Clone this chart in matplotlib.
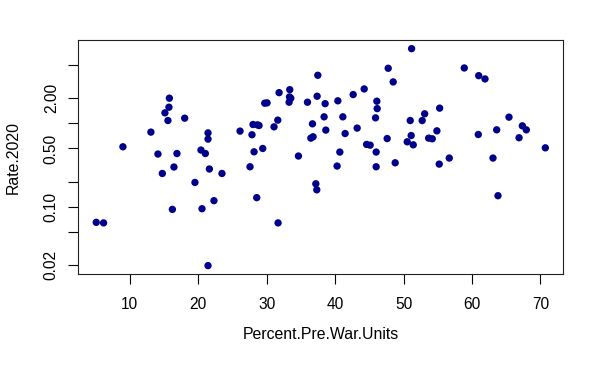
import matplotlib
matplotlib.use("Agg")
import matplotlib.pyplot as plt
import numpy as np

# values
percent_pre_war = [
    5.08, 6.15, 8.98, 13.07, 14.10, 14.74, 15.12, 15.56, 15.71, 15.77,
    16.21, 16.44, 16.88, 18.01, 19.51, 20.39, 20.54, 21.03, 21.42, 21.42,
    21.62, 21.42, 22.29, 23.46, 26.10, 27.56, 27.85, 28.00, 28.15, 28.54,
    28.64, 28.88, 29.42, 29.71, 30.05, 31.07, 31.62, 31.66, 31.81, 33.37,
    33.33, 33.52, 33.27, 34.64, 35.96, 36.69, 36.45, 36.78, 37.18, 37.32,
    37.37, 37.47, 38.54, 38.39, 38.64, 40.40, 41.13, 40.69, 40.29, 41.46,
    42.64, 43.22, 44.25, 44.60, 45.12, 45.91, 46.10, 46.15, 46.00, 46.00,
    47.61, 47.76, 48.49, 48.78, 50.54, 50.98, 51.12, 51.42, 51.18, 52.73,
    53.09, 53.67, 54.20, 54.88, 55.22, 55.28, 56.69, 58.88, 60.99, 61.91,
    60.93, 63.08, 63.62, 63.81, 65.42, 66.89, 67.37, 67.95, 70.73,
]
rate_2020 = [
    0.0653, 0.0643, 0.524, 0.785, 0.429, 0.251, 1.335, 1.08, 1.56, 2.0,
    0.0933, 0.300, 0.435, 1.153, 0.196, 0.479, 0.095, 0.435, 0.769, 0.647,
    0.284, 0.0198, 0.1186, 0.251, 0.807, 0.302, 0.730, 0.968, 0.456, 0.129,
    0.959, 0.942, 0.500, 1.742, 1.758, 0.908, 1.092, 0.0643, 2.33, 2.53,
    2.07, 2.0, 1.79, 0.406, 1.79, 0.986, 0.665, 0.690, 0.189, 0.160,
    2.11, 3.76, 1.72, 1.196, 0.830, 1.86, 1.196, 0.453, 0.308, 0.755,
    2.21, 0.877, 2.58, 0.559, 0.548, 1.163, 1.84, 1.50, 0.453, 0.302,
    0.657, 4.56, 3.13, 0.337, 0.601, 1.08, 0.714, 0.553, 7.83, 1.08,
    1.30, 0.665, 0.653, 0.813, 0.325, 1.52, 0.384, 4.60, 3.72, 3.40,
    0.735, 0.384, 0.836, 0.136, 1.186, 0.672, 0.933, 0.836, 0.509,
]

x_ticks = [10, 20, 30, 40, 50, 60, 70]
y_ticks = [0.02, 0.05, 0.1, 0.2, 0.5, 1, 2, 5]
y_labels = ["0.02", "", "0.10", "", "0.50", "", "2.00", ""]

plt.rcParams["font.family"] = ["Liberation Sans", "DejaVu Sans"]

fig = plt.figure(figsize=(6.04, 3.73), dpi=100)
ax = fig.add_axes([0.1296, 0.2646, 0.803, 0.6282])

ax.scatter(percent_pre_war, rate_2020, s=28, color="#00008B", edgecolors="none")

# R style: 4% padding around the data range
x = np.array(percent_pre_war)
y = np.log10(rate_2020)
xr = x.max() - x.min()
yr = y.max() - y.min()
ax.set_yscale("log")
ax.set_xlim(x.min() - 0.04 * xr, x.max() + 0.04 * xr)
ax.set_ylim(10 ** (y.min() - 0.04 * yr), 10 ** (y.max() + 0.04 * yr))

ax.set_xticks(x_ticks)
ax.set_xticklabels([str(t) for t in x_ticks])
ax.set_yticks(y_ticks)
ax.set_yticklabels(y_labels, rotation=90, va="center")
ax.yaxis.set_minor_locator(matplotlib.ticker.NullLocator())

ax.tick_params(axis="both", direction="out", length=7, width=0.8,
               labelsize=11.2, colors="black")
ax.tick_params(axis="x", pad=9)
ax.tick_params(axis="y", pad=7)

for sp in ax.spines.values():
    sp.set_linewidth(0.8)
    sp.set_color("#222222")

ax.set_xlabel("Percent.Pre.War.Units", fontsize=11.4)
ax.set_ylabel("Rate.2020", fontsize=11.4)
ax.xaxis.set_label_coords(0.5, -0.226)
ax.yaxis.set_label_coords(-0.118, 0.5)

fig.savefig("out.png", dpi=100)
